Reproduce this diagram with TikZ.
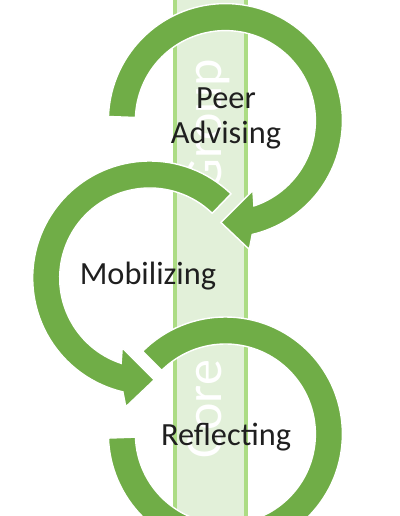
\documentclass[tikz,border=0pt]{standalone}
\usepackage{fontspec}
\setmainfont{Carlito}
\usepackage{tikz}
\usetikzlibrary{positioning}
\definecolor{arrowgreen}{RGB}{112,173,71}
\definecolor{bandfill}{RGB}{226,240,217}
\definecolor{bandedge}{RGB}{172,220,132}

\begin{document}
\begin{tikzpicture}[x=0.025cm,y=0.025cm,
        ring/.style={fill=arrowgreen,draw=white,line width=1pt,line join=miter},
        label/.style={font=\fontsize{23}{25}\selectfont,text=black!88,align=center,inner sep=0pt},
        band/.style={font=\fontsize{37}{40}\selectfont,text=white,rotate=90,anchor=base,inner sep=0pt}]
    \useasboundingbox (0,0) rectangle (400,516);
    \clip (0,0) rectangle (400,516);
    % core group band
    \fill[bandfill] (175,0) rectangle (246,516);
    \draw[bandedge,line width=2.2pt] (175,0) -- (175,516) (246,0) -- (246,516);
    \node[band] (group) at (221,391) {Group};
    \node[band] (core) at (221,107) {Core};
    % centres of the three cycles
    \coordinate (peerc) at (225.4,395.4);
    \coordinate (mobc) at (149.7,238);
    \coordinate (refc) at (225.4,82);
    % peer advising: clockwise, head at the bottom
    \begin{scope}[shift={(peerc)}]
        \filldraw[ring] (178:117) arc[start angle=178,end angle=-76.75,radius=117]
            -- (-79.5:131) -- (-92.5:102) -- (-68.5:75) -- (-71.5:90)
            arc[start angle=-71.5,end angle=178,radius=90] -- cycle;
    \end{scope}
    % mobilizing: counter clockwise, head at the bottom
    \begin{scope}[shift={(mobc)}]
        \filldraw[ring] (46:117) arc[start angle=46,end angle=256.75,radius=117]
            -- (259.5:131) -- (272.5:102) -- (248.5:75) -- (251.5:90)
            arc[start angle=251.5,end angle=46,radius=90] -- cycle;
    \end{scope}
    % reflecting
    \begin{scope}[shift={(refc)}]
        \filldraw[ring] (135:117) arc[start angle=135,end angle=-178,radius=117]
            -- (-178:90) arc[start angle=-178,end angle=135,radius=90] -- cycle;
    \end{scope}
    \node[label] (peer) at (226,398) {Peer\\Advising};
    \node[label] (mob) at (148,240) {Mobilizing};
    \node[label] (refl) at (226,79) {Reflecting};
\end{tikzpicture}
\end{document}
